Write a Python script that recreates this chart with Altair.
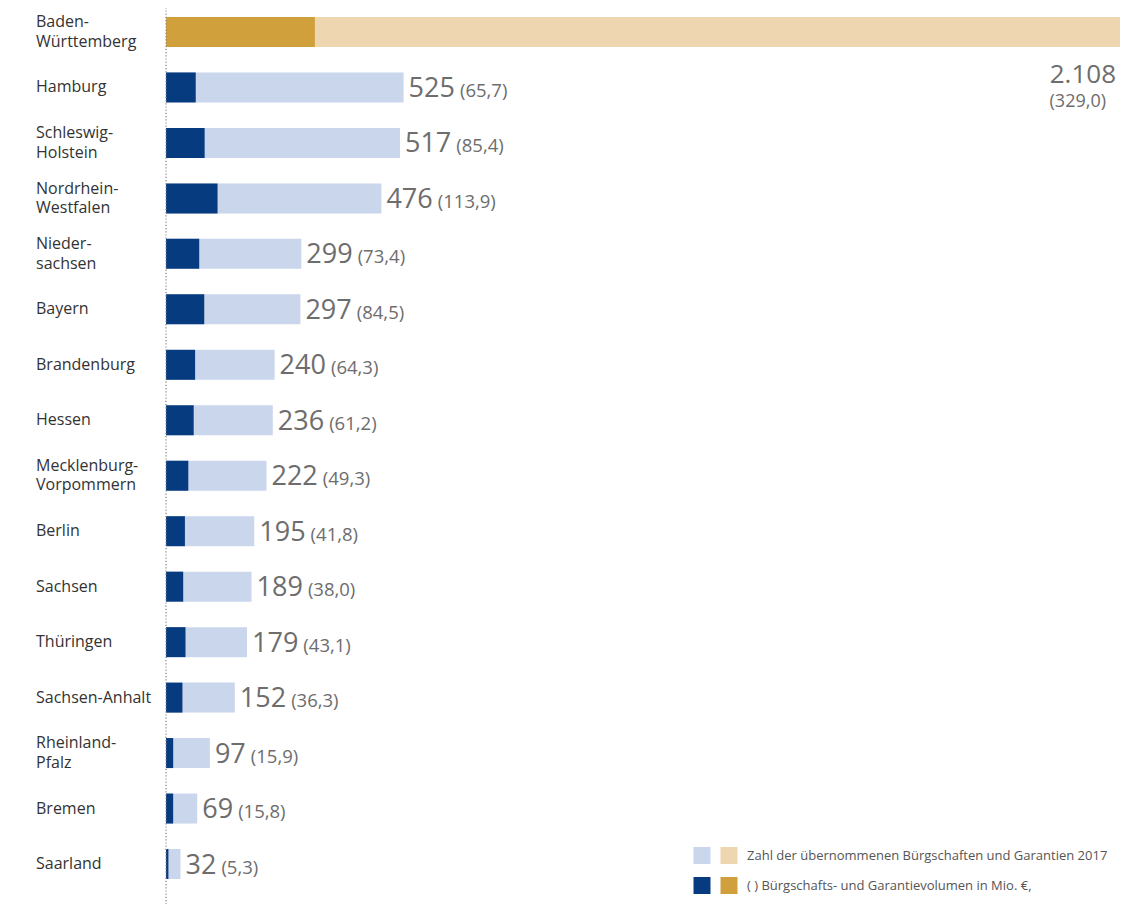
import altair as alt
import pandas as pd

states = ["Baden-Württemberg", "Hamburg", "Schleswig-Holstein", "Nordrhein-Westfalen",
          "Niedersachsen", "Bayern", "Brandenburg", "Hessen", "Mecklenburg-Vorpommern",
          "Berlin", "Sachsen", "Thüringen", "Sachsen-Anhalt", "Rheinland-Pfalz",
          "Bremen", "Saarland"]
state_labels = ["Baden-\nWürttemberg", "Hamburg", "Schleswig-\nHolstein", "Nordrhein-\nWestfalen",
                "Nieder-\nsachsen", "Bayern", "Brandenburg", "Hessen", "Mecklenburg-\nVorpommern",
                "Berlin", "Sachsen", "Thüringen", "Sachsen-Anhalt", "Rheinland-\nPfalz",
                "Bremen", "Saarland"]
counts = [2108, 525, 517, 476, 299, 297, 240, 236, 222, 195, 189, 179, 152, 97, 69, 32]
volumes = [329.0, 65.7, 85.4, 113.9, 73.4, 84.5, 64.3, 61.2, 49.3, 41.8, 38.0, 43.1, 36.3, 15.9, 15.8, 5.3]
groups = ["bw"] + ["other"] * 15

legend_text = ["Zahl der übernommenen Bürgschaften und Garantien 2017",
               "( ) Bürgschafts- und Garantievolumen in Mio. €,"]

LIGHT_BLUE = "#cad6ec"
DARK_BLUE = "#073b80"
GOLD = "#cfa03c"
LIGHT_GOLD = "#eed7b0"
GRAY = "#6d6d6d"
FONT = "Open Sans"

legend_colors = [[LIGHT_BLUE, LIGHT_GOLD], [DARK_BLUE, GOLD]]

df = pd.DataFrame({
    "state": states,
    "label": state_labels,
    "count": counts,
    "volume": volumes,
    "grp": groups,
    "countLabel": [f"{c:,}".replace(",", ".") for c in counts],
    "volLabel": ["(" + f"{v:.1f}".replace(".", ",") + ")" for v in volumes],
})

W, H = 954, 880
XMAX = 2108
PX = W / XMAX  # pixels per unit
LH = 19.5
xscale = alt.Scale(domain=[0, XMAX], nice=False, zero=True)
yenc = alt.Y("state:N", sort=states, axis=None,
             scale=alt.Scale(paddingInner=0.459, paddingOuter=0.162))

base = alt.Chart(df)

light = base.mark_bar().encode(
    x=alt.X("count:Q", scale=xscale, axis=None),
    y=yenc,
    color=alt.Color("grp:N", scale=alt.Scale(domain=["bw", "other"], range=[LIGHT_GOLD, LIGHT_BLUE]), legend=None),
)
dark = base.mark_bar().encode(
    x=alt.X("volume:Q", scale=xscale, axis=None),
    y=yenc,
    fill=alt.Fill("grp:N", scale=alt.Scale(domain=["bw", "other"], range=[GOLD, DARK_BLUE]), legend=None),
)

name_style = dict(align="left", baseline="middle", font=FONT, fontSize=16,
                  color="#333333", lineBreak="\n", lineHeight=LH)
names1 = base.transform_filter("indexof(datum.label, '\\n') < 0").mark_text(**name_style).encode(
    x=alt.value(-130), y=yenc, text="label:N")
names2 = base.transform_filter("indexof(datum.label, '\\n') >= 0").mark_text(
    dy=-LH / 2, **name_style).encode(
    x=alt.value(-130), y=yenc, text="label:N")

others = base.transform_filter("datum.grp == 'other'")
big = others.mark_text(align="left", baseline="alphabetic", font=FONT, fontSize=27,
                       color=GRAY, dx=5, dy=9.5).encode(
    x=alt.X("count:Q", scale=xscale), y=yenc, text="countLabel:N")
small = others.transform_calculate(
    xp=f"datum.count + (length(datum.countLabel) * 15.45 + 10) / {PX}"
).mark_text(align="left", baseline="alphabetic", font=FONT, fontSize=18.5,
            color=GRAY, dy=9.5).encode(
    x=alt.X("xp:Q", scale=xscale), y=yenc, text="volLabel:N")

bwd = base.transform_filter("datum.grp == 'bw'")
bw_big = bwd.mark_text(align="right", baseline="alphabetic", font=FONT, fontSize=26,
                       color=GRAY, dx=-4, dy=51).encode(
    x=alt.X("count:Q", scale=xscale), y=yenc, text="countLabel:N")
bw_small = bwd.mark_text(align="right", baseline="alphabetic", font=FONT, fontSize=18,
                         color=GRAY, dx=-14, dy=75).encode(
    x=alt.X("count:Q", scale=xscale), y=yenc, text="volLabel:N")

one = pd.DataFrame({"a": [0]})
rule = alt.Chart(one).mark_rule(
    color="#8a8a8a", strokeDash=[1.2, 2], strokeWidth=1.3).encode(
    x=alt.value(0), y=alt.value(-4), y2=alt.value(H + 16))

legend_layers = []
for r, (cols, txt) in enumerate(zip(legend_colors, legend_text)):
    yv = 847.5 + r * 30
    for c, col in enumerate(cols):
        legend_layers.append(
            alt.Chart(one).mark_square(size=289, opacity=1, color=col).encode(
                x=alt.value(536 + c * 27), y=alt.value(yv))
        )
    legend_layers.append(
        alt.Chart(pd.DataFrame({"t": [txt]})).mark_text(
            align="left", baseline="middle", font=FONT, fontSize=13, color="#555555").encode(
            x=alt.value(581), y=alt.value(yv), text="t:N")
    )

chart = alt.layer(light, dark, names1, names2, big, small, bw_big, bw_small, rule, *legend_layers).properties(
    width=W, height=H,
    autosize="none",
    padding={"left": 158, "top": 0, "right": 16, "bottom": 16},
).configure_view(stroke=None)

chart.save("out.html", embed_options={"renderer": "svg", "actions": False})
